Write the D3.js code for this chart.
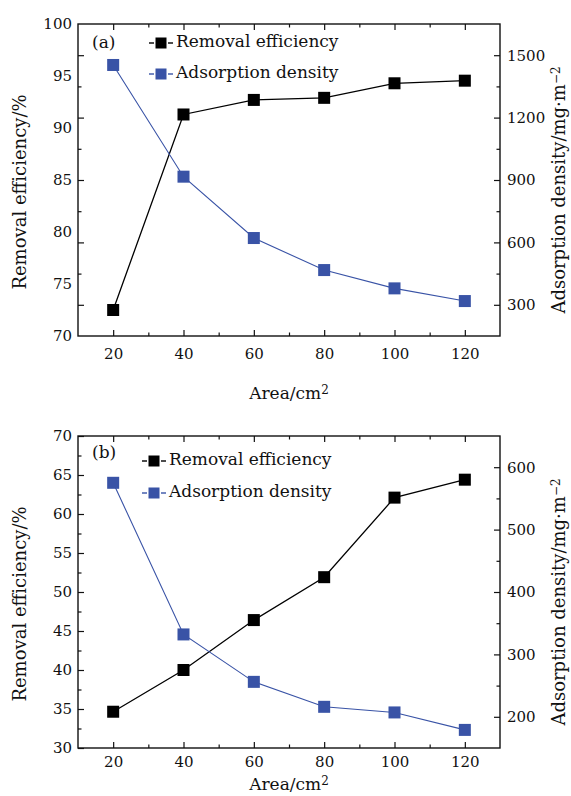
<!DOCTYPE html>
<html>
<head>
<meta charset="utf-8">
<script src="https://cdn.jsdelivr.net/npm/d3@7"></script>
<style>
  body { margin: 0; background: #fff; }
  text { font-family: "DejaVu Serif", serif; fill: #111; }
</style>
</head>
<body>
<svg id="chart"></svg>
<script>
// values
const areas = [20, 40, 60, 80, 100, 120];
const effA  = [72.5, 91.3, 92.7, 92.9, 94.3, 94.55];
const densA = [1453, 916, 621, 467, 379, 318];
const effB  = [34.65, 40.0, 46.4, 51.9, 62.1, 64.4];
const densB = [575, 332, 256, 216, 207, 179];

const xTicks = [20, 40, 60, 80, 100, 120];
const xMinor = [30, 50, 70, 90, 110];

const W = 571, H = 796;
const BLUE = "#3953a6";
const fmt = d3.format("d");

const svg = d3.select("#chart").attr("width", W).attr("height", H);
svg.append("rect").attr("width", W).attr("height", H).attr("fill", "#fff");

function stripDomain(g) { g.select(".domain").remove(); }

// one panel: left = removal efficiency, right = adsorption density
function drawPanel(p) {
  const x = d3.scaleLinear().domain([10, 130]).range([p.left, p.right]);
  const yL = d3.scaleLinear().domain(p.leftDomain).range([p.bottom, p.top]);
  const yR = d3.scaleLinear().domain(p.rightDomain).range([p.bottom, p.top]);

  const g = svg.append("g");

  // bottom axis, ticks inward
  g.append("g").attr("transform", `translate(0,${p.bottom})`)
    .call(d3.axisBottom(x).tickValues(xTicks).tickFormat(fmt).tickSizeInner(-6).tickSizeOuter(0).tickPadding(p.xPad))
    .call(stripDomain);
  g.append("g").attr("transform", `translate(0,${p.bottom})`)
    .call(d3.axisBottom(x).tickValues(xMinor).tickSizeInner(-3.5).tickSizeOuter(0).tickFormat(""))
    .call(stripDomain);
  // top border mirror ticks
  g.append("g").attr("transform", `translate(0,${p.top})`)
    .call(d3.axisTop(x).tickValues(xTicks).tickSizeInner(-6).tickSizeOuter(0).tickFormat(""))
    .call(stripDomain);
  g.append("g").attr("transform", `translate(0,${p.top})`)
    .call(d3.axisTop(x).tickValues(xMinor).tickSizeInner(-3.5).tickSizeOuter(0).tickFormat(""))
    .call(stripDomain);

  // left labels
  g.append("g").attr("transform", `translate(${p.left},0)`)
    .call(d3.axisLeft(yL).tickValues(p.leftTicks).tickFormat(fmt).tickSizeInner(p.leftOwnTicks ? -6 : 0).tickSizeOuter(0).tickPadding(6))
    .call(stripDomain);
  // left spine ticks (panel a copies the right axis ticks, as in the original)
  const ls = p.leftOwnTicks ? yL : yR;
  g.append("g").attr("transform", `translate(${p.left},0)`)
    .call(d3.axisLeft(ls).tickValues(p.leftOwnTicks ? p.leftMinor : p.rightTicks).tickSizeInner(p.leftOwnTicks ? -3.5 : -6).tickSizeOuter(0).tickFormat(""))
    .call(stripDomain);
  if (!p.leftOwnTicks) {
    g.append("g").attr("transform", `translate(${p.left},0)`)
      .call(d3.axisLeft(yR).tickValues(p.rightMinor).tickSizeInner(-3.5).tickSizeOuter(0).tickFormat(""))
      .call(stripDomain);
  }

  // right axis
  g.append("g").attr("transform", `translate(${p.right},0)`)
    .call(d3.axisRight(yR).tickValues(p.rightTicks).tickFormat(fmt).tickSizeInner(-6).tickSizeOuter(0).tickPadding(7))
    .call(stripDomain);
  g.append("g").attr("transform", `translate(${p.right},0)`)
    .call(d3.axisRight(yR).tickValues(p.rightMinor).tickSizeInner(-3.5).tickSizeOuter(0).tickFormat(""))
    .call(stripDomain);

  g.selectAll(".tick line").attr("stroke", "#111").attr("stroke-width", 1.2);
  g.selectAll(".tick text").attr("font-size", 15).attr("font-family", "DejaVu Serif").attr("fill", "#111");

  // frame
  g.append("rect")
    .attr("x", p.left).attr("y", p.top)
    .attr("width", p.right - p.left).attr("height", p.bottom - p.top)
    .attr("fill", "none").attr("stroke", "#111").attr("stroke-width", 1.4);

  // series
  const effLine = d3.line().x((d, i) => x(areas[i])).y(d => yL(d));
  const densLine = d3.line().x((d, i) => x(areas[i])).y(d => yR(d));

  g.append("path").datum(p.eff).attr("d", effLine)
    .attr("fill", "none").attr("stroke", "#000").attr("stroke-width", 1.3);
  g.selectAll(".mk-eff").data(p.eff).enter().append("rect")
    .attr("x", (d, i) => x(areas[i]) - 6).attr("y", d => yL(d) - 6)
    .attr("width", 12).attr("height", 12).attr("fill", "#000");

  g.append("path").datum(p.dens).attr("d", densLine)
    .attr("fill", "none").attr("stroke", BLUE).attr("stroke-width", 1.1);
  g.selectAll(".mk-dens").data(p.dens).enter().append("rect")
    .attr("x", (d, i) => x(areas[i]) - 6).attr("y", d => yR(d) - 6)
    .attr("width", 12).attr("height", 12).attr("fill", BLUE);

  // panel letter + legend
  g.append("text").attr("x", p.left + 14).attr("y", p.tagY)
    .attr("font-size", 17).text(p.tag);

  const leg = [
    { label: "Removal efficiency", color: "#000" },
    { label: "Adsorption density", color: BLUE }
  ];
  leg.forEach((d, i) => {
    const by = p.legY + i * p.legStep;
    const cy = by - 4;
    // short dash, square, short dash
    [[0, 5], [19, 24]].forEach(s => {
      g.append("line").attr("x1", p.legX + s[0]).attr("x2", p.legX + s[1])
        .attr("y1", cy).attr("y2", cy).attr("stroke", d.color).attr("stroke-width", 1.4);
    });
    g.append("rect").attr("x", p.legX + 12 - 5.5).attr("y", cy - 5.5)
      .attr("width", 11).attr("height", 11).attr("fill", d.color);
    g.append("text").attr("x", p.legX + 27).attr("y", by)
      .attr("font-size", 17).text(d.label);
  });

  // axis titles
  const xt = g.append("text").attr("x", (p.left + p.right) / 2).attr("y", p.xTitleY)
    .attr("text-anchor", "middle").attr("font-size", 17);
  xt.append("tspan").text("Area/cm");
  xt.append("tspan").attr("dy", "-0.45em").attr("font-size", 12).text("2");

  g.append("text")
    .attr("transform", `translate(26,${(p.top + p.bottom) / 2 + 12}) rotate(-90)`)
    .attr("text-anchor", "middle").attr("font-size", 18)
    .text("Removal efficiency/%");

  const rt = g.append("text")
    .attr("transform", `translate(565,${(p.top + p.bottom) / 2 + 10}) rotate(-90)`)
    .attr("text-anchor", "middle").attr("font-size", 18);
  rt.append("tspan").text("Adsorption density/mg\u00b7m");
  rt.append("tspan").attr("dy", "-0.45em").attr("font-size", 12).text("\u22122");
}

drawPanel({
  top: 24, bottom: 336, left: 78, right: 500,
  leftDomain: [70, 100], leftTicks: [70, 75, 80, 85, 90, 95, 100], leftOwnTicks: false,
  rightDomain: [150, 1650], rightTicks: [300, 600, 900, 1200, 1500], rightMinor: [450, 750, 1050, 1350],
  eff: effA, dens: densA, xPad: 12,
  tag: "(a)", tagY: 48, legX: 149, legY: 47, legStep: 31, xTitleY: 399
});

drawPanel({
  top: 436, bottom: 748, left: 78, right: 500,
  leftDomain: [30, 70], leftTicks: [30, 35, 40, 45, 50, 55, 60, 65, 70], leftOwnTicks: true,
  leftMinor: [32.5, 37.5, 42.5, 47.5, 52.5, 57.5, 62.5, 67.5],
  rightDomain: [150, 650], rightTicks: [200, 300, 400, 500, 600], rightMinor: [250, 350, 450, 550],
  eff: effB, dens: densB, xPad: 8,
  tag: "(b)", tagY: 458, legX: 142, legY: 465, legStep: 32, xTitleY: 790
});
</script>
</body>
</html>
